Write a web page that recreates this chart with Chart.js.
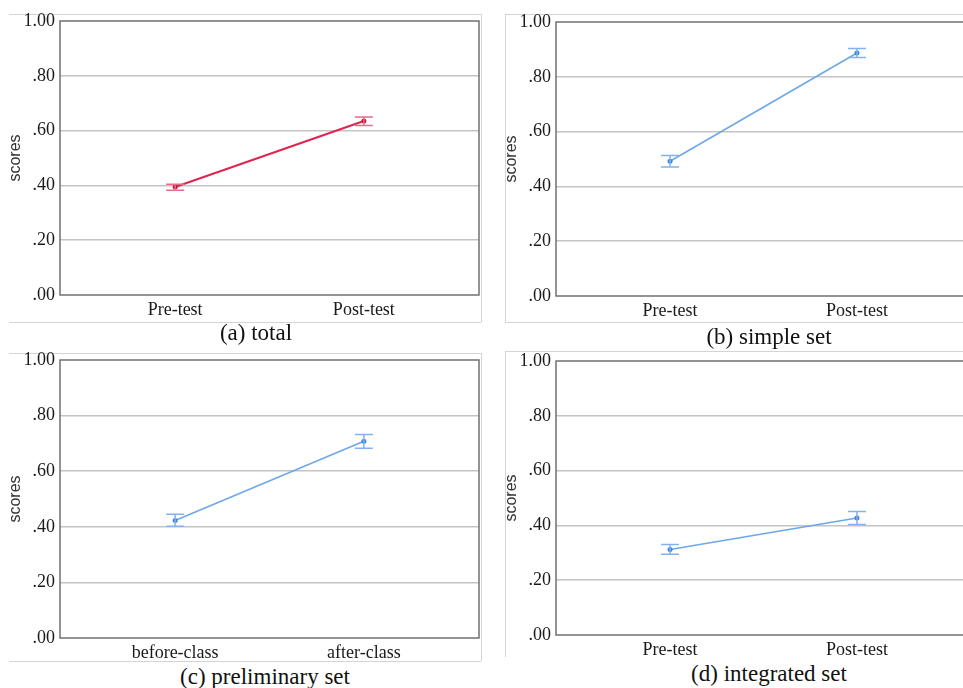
<!DOCTYPE html>
<html>
<head>
<meta charset="utf-8">
<script src="https://cdn.jsdelivr.net/npm/chart.js@4"></script>
<style>
  body { margin: 0; width: 963px; height: 688px; overflow: hidden; background: #fff; position: relative; }
  canvas { position: absolute; }
  .rule { position: absolute; background: #d4d4d4; }
  .cap { position: absolute; font-family: "Liberation Serif", serif; font-size: 23px; color: #111; transform: translate(-50%, -50%); white-space: nowrap; }
</style>
</head>
<body>
<!-- faint frame lines around the four panels -->
<div class="rule" style="left:9px;top:14px;width:472px;height:1px"></div>
<div class="rule" style="left:9px;top:322px;width:472px;height:1px"></div>
<div class="rule" style="left:481px;top:14px;width:1px;height:308px"></div>
<div class="rule" style="left:505px;top:14px;width:458px;height:1px"></div>
<div class="rule" style="left:505px;top:322px;width:458px;height:1px"></div>
<div class="rule" style="left:505px;top:14px;width:1px;height:308px"></div>
<div class="rule" style="left:9px;top:353px;width:472px;height:1px"></div>
<div class="rule" style="left:9px;top:661px;width:472px;height:1px"></div>
<div class="rule" style="left:481px;top:353px;width:1px;height:308px"></div>
<div class="rule" style="left:505px;top:351px;width:458px;height:1px"></div>
<div class="rule" style="left:505px;top:351px;width:1px;height:306px"></div>

<canvas id="chart-a" width="490" height="320" style="left:0;top:0"></canvas>
<canvas id="chart-b" width="490" height="321" style="left:496px;top:0"></canvas>
<canvas id="chart-c" width="490" height="323" style="left:0;top:340px"></canvas>
<canvas id="chart-d" width="490" height="320" style="left:496px;top:340px"></canvas>

<div class="cap" style="left:256px;top:333px">(a) total</div>
<div class="cap" style="left:769px;top:337px">(b) simple set</div>
<div class="cap" style="left:265px;top:677px">(c) preliminary set</div>
<div class="cap" style="left:769px;top:674px">(d) integrated set</div>

<script>
// categories
const testLabels = ["Pre-test", "Post-test"];
const classLabels = ["before-class", "after-class"];
const yTickLabels = [".00", ".20", ".40", ".60", ".80", "1.00"];

// (a) total
const totalMeans = [0.394, 0.635];
const totalLow = [0.382, 0.619];
const totalHigh = [0.404, 0.650];
// (b) simple set
const simpleMeans = [0.492, 0.887];
const simpleLow = [0.471, 0.870];
const simpleHigh = [0.513, 0.903];
// (c) preliminary set
const prelimMeans = [0.423, 0.708];
const prelimLow = [0.402, 0.683];
const prelimHigh = [0.445, 0.732];
// (d) integrated set
const integMeans = [0.312, 0.427];
const integLow = [0.295, 0.403];
const integHigh = [0.330, 0.451];

const red = { line: '#e2234f', bar: '#ec6b87', dot: '#d4123f' };
const blue = { line: '#6ea7ea', bar: '#80b3ef', dot: '#3f85db' };

// plot frame (all four sides)
const framePlugin = {
  id: 'frame',
  beforeDatasetsDraw(chart) {
    const a = chart.chartArea;
    const ctx = chart.ctx;
    ctx.save();
    ctx.strokeStyle = '#707070';
    ctx.lineWidth = 1.5;
    ctx.strokeRect(a.left, a.top, a.right - a.left, a.bottom - a.top);
    ctx.restore();
  }
};

// error bars, read from each dataset's low/high arrays
const errorBarPlugin = {
  id: 'errorBars',
  afterDatasetsDraw(chart) {
    const ctx = chart.ctx;
    const yScale = chart.scales.y;
    chart.data.datasets.forEach((ds, di) => {
      const meta = chart.getDatasetMeta(di);
      ctx.save();
      ctx.strokeStyle = ds.errorColor;
      ctx.lineWidth = 1.5;
      meta.data.forEach((pt, i) => {
        const yLo = yScale.getPixelForValue(ds.low[i]);
        const yHi = yScale.getPixelForValue(ds.high[i]);
        const x = pt.x;
        ctx.beginPath();
        ctx.moveTo(x, yLo); ctx.lineTo(x, yHi);
        ctx.moveTo(x - 9, yLo); ctx.lineTo(x + 9, yLo);
        ctx.moveTo(x - 9, yHi); ctx.lineTo(x + 9, yHi);
        ctx.stroke();
      });
      ctx.restore();
    });
  }
};

function makeChart(id, labels, means, low, high, color, pad, lineW) {
  const points = means.map((v, i) => ({ x: i, y: v }));
  return new Chart(document.getElementById(id), {
    type: 'line',
    data: {
      datasets: [{
        data: points,
        low: low,
        high: high,
        errorColor: color.bar,
        borderColor: color.line,
        borderWidth: lineW,
        pointRadius: 2.5,
        pointBackgroundColor: color.dot,
        pointBorderWidth: 0,
        tension: 0
      }]
    },
    options: {
      responsive: false,
      animation: false,
      layout: { padding: pad },
      plugins: { legend: { display: false }, tooltip: { enabled: false } },
      scales: {
        x: {
          type: 'linear',
          min: -0.61,
          max: 1.61,
          afterBuildTicks: (scale) => { scale.ticks = [{ value: 0 }, { value: 1 }]; },
          afterFit: (scale) => { scale.height = 25; },
          grid: { display: false, drawTicks: false },
          border: { display: false },
          ticks: {
            padding: 4,
            maxRotation: 0,
            color: '#1a1a1a',
            font: { family: 'Liberation Serif', size: 18 },
            callback: (v) => labels[v]
          }
        },
        y: {
          min: 0,
          max: 1,
          afterFit: (scale) => { scale.width = 60; },
          grid: {
            drawTicks: false,
            lineWidth: 1.5,
            color: (c) => (c.tick && (c.tick.value === 0 || c.tick.value === 1)) ? 'rgba(0,0,0,0)' : '#c4c4c4'
          },
          border: { display: false },
          title: {
            display: true,
            text: 'scores',
            color: '#333',
            padding: { top: 6, bottom: 0 },
            font: { family: 'Liberation Sans', size: 16 }
          },
          ticks: {
            stepSize: 0.2,
            padding: 5,
            color: '#1a1a1a',
            font: { family: 'Liberation Serif', size: 18 },
            callback: (v, i) => yTickLabels[i]
          }
        }
      }
    },
    plugins: [framePlugin, errorBarPlugin]
  });
}

makeChart('chart-a', testLabels, totalMeans, totalLow, totalHigh, red,
  { top: 21, right: 11, bottom: 0, left: 0 }, 2);
makeChart('chart-b', testLabels, simpleMeans, simpleLow, simpleHigh, blue,
  { top: 22, right: 15, bottom: 0, left: 0 }, 1.6);
makeChart('chart-c', classLabels, prelimMeans, prelimLow, prelimHigh, blue,
  { top: 20, right: 11, bottom: 0, left: 0 }, 1.6);
makeChart('chart-d', testLabels, integMeans, integLow, integHigh, blue,
  { top: 21, right: 15, bottom: 0, left: 0 }, 1.6);
</script>
</body>
</html>
